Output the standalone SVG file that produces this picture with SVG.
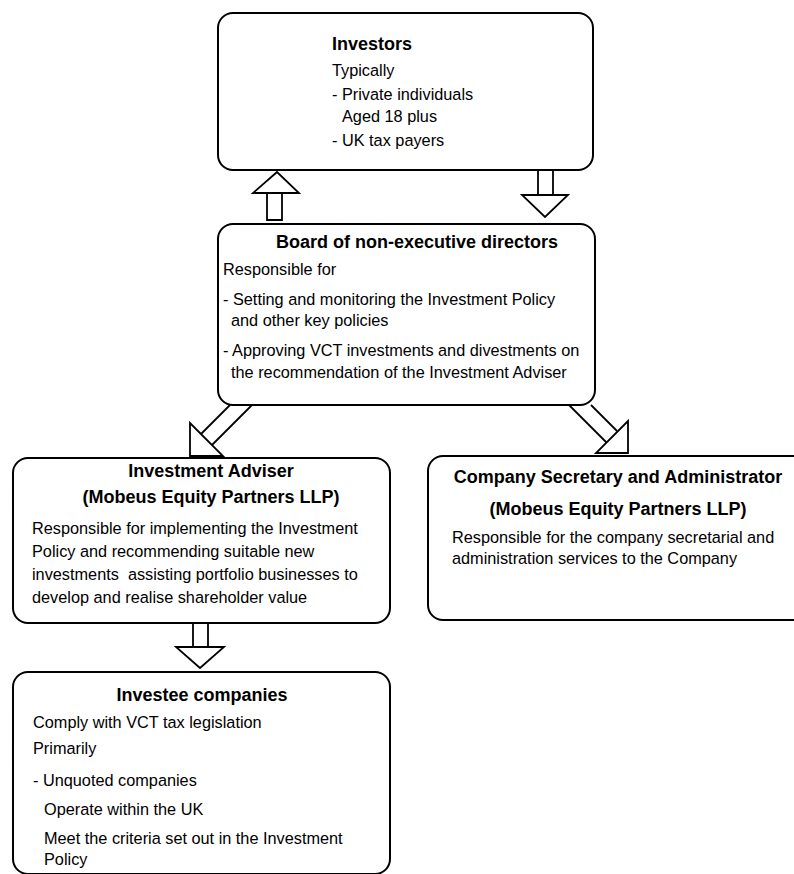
<svg xmlns="http://www.w3.org/2000/svg" width="794" height="874" viewBox="0 0 794 874">
<style>
.box{fill:#fff;stroke:#000;stroke-width:2}
.arr{fill:#fff;stroke:#000;stroke-width:1.8;stroke-linejoin:miter}
.ln{fill:none;stroke:#000;stroke-width:1.8}
text{font-family:"Liberation Sans",Arial,sans-serif;fill:#000}
.t{font-size:18px;font-weight:bold}
.b{font-size:16.3px}
.m{text-anchor:middle}
</style>
<rect width="794" height="874" fill="#fff"/>
<g id="connectors">
  <polygon class="arr" points="277,172 253,193 299,193"/>
  <polyline class="ln" points="267,193 267,220 282,220 282,193"/>
  <polyline class="ln" points="538,171 538,195 553,195 553,171"/>
  <polygon class="arr" points="522,195 568,195 545,217"/>
  <line class="ln" x1="230" y1="405" x2="201" y2="434"/>
  <line class="ln" x1="252" y1="405" x2="212" y2="445"/>
  <polygon class="arr" points="190,423 190,456 223,456"/>
  <line class="ln" x1="569" y1="405" x2="607" y2="443"/>
  <line class="ln" x1="591" y1="405" x2="617" y2="431"/>
  <polygon class="arr" points="628,421 628,453 596,453"/>
  <polyline class="ln" points="193,624 193,647 208,647 208,624"/>
  <polygon class="arr" points="176,647 224,647 200,668"/>
</g>
<g id="investors">
  <rect class="box" x="218" y="13" width="375" height="157" rx="15"/>
  <text class="t" x="332" y="50">Investors</text>
  <text class="b" x="332" y="76">Typically</text>
  <text class="b" x="332" y="100">- Private individuals</text>
  <text class="b" x="342" y="122">Aged 18 plus</text>
  <text class="b" x="332" y="146">- UK tax payers</text>
</g>
<g id="board">
  <rect class="box" x="218" y="224" width="377" height="181" rx="15"/>
  <text class="t m" x="417" y="248">Board of non-executive directors</text>
  <text class="b" x="223" y="275">Responsible for</text>
  <text class="b" x="223" y="305">- Setting and monitoring the Investment Policy</text>
  <text class="b" x="231" y="326">and other key policies</text>
  <text class="b" x="223" y="356">- Approving VCT investments and divestments on</text>
  <text class="b" x="231" y="378">the recommendation of the Investment Adviser</text>
</g>
<g id="adviser">
  <rect class="box" x="13" y="458" width="377" height="165" rx="15"/>
  <text class="t m" x="211" y="477">Investment Adviser</text>
  <text class="t m" x="211" y="503">(Mobeus Equity Partners LLP)</text>
  <text class="b" x="32" y="534">Responsible for implementing the Investment</text>
  <text class="b" x="32" y="557">Policy and recommending suitable new</text>
  <text class="b" x="32" y="580">investments&#160; assisting portfolio businesses to</text>
  <text class="b" x="32" y="603">develop and realise shareholder value</text>
</g>
<g id="secretary">
  <rect class="box" x="428" y="456" width="390" height="164" rx="15"/>
  <text class="t m" x="618" y="483">Company Secretary and Administrator</text>
  <text class="t m" x="618" y="515">(Mobeus Equity Partners LLP)</text>
  <text class="b" x="452" y="543">Responsible for the company secretarial and</text>
  <text class="b" x="452" y="564">administration services to the Company</text>
</g>
<g id="investee">
  <rect class="box" x="13" y="672" width="377" height="202" rx="15"/>
  <text class="t m" x="202" y="701">Investee companies</text>
  <text class="b" x="33" y="728">Comply with VCT tax legislation</text>
  <text class="b" x="33" y="754">Primarily</text>
  <text class="b" x="33" y="786">- Unquoted companies</text>
  <text class="b" x="44" y="815">Operate within the UK</text>
  <text class="b" x="44" y="844">Meet the criteria set out in the Investment</text>
  <text class="b" x="44" y="865">Policy</text>
</g>
</svg>
